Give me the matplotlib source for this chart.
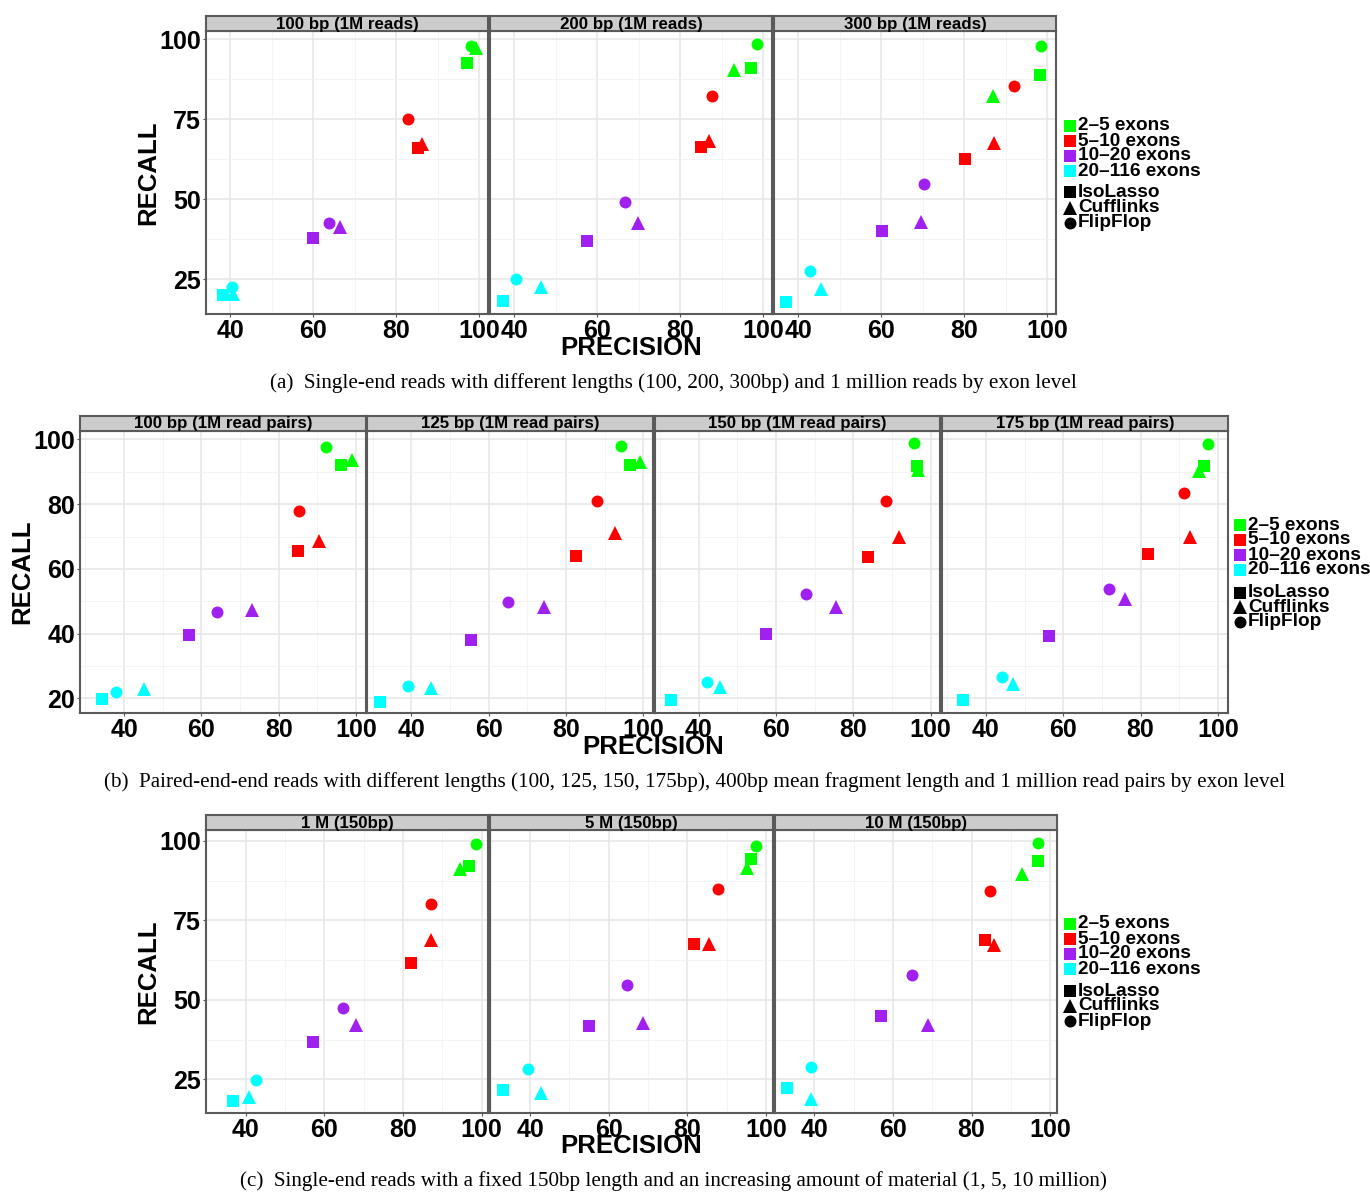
import matplotlib
matplotlib.use("Agg")
import matplotlib.pyplot as plt
from matplotlib.lines import Line2D
from matplotlib.patches import Rectangle

# ---------------- DATA ----------------
exon_groups = ['2\u20135 exons', '5\u201310 exons', '10\u201320 exons', '20\u2013116 exons']
exon_colors = ['#00FF00', '#FF0000', '#A020F0', '#00FFFF']
methods = ['IsoLasso', 'Cufflinks', 'FlipFlop']

# Row (a): single-end reads, different lengths
a_panels = ['100 bp (1M reads)', '200 bp (1M reads)', '300 bp (1M reads)']
a_isolasso_precision = [[97.0, 85.2, 60.0, 38.3], [97.0, 84.9, 57.6, 37.3], [98.2, 80.1, 60.1, 37.1]]
a_isolasso_recall = [[92.7, 66.2, 37.9, 20.1], [91.0, 66.4, 37.1, 18.3], [88.8, 62.6, 40.2, 18.0]]
a_cufflinks_precision = [[99.1, 86.1, 66.4, 40.8], [93.0, 86.9, 69.8, 46.6], [86.9, 87.1, 69.5, 45.5]]
a_cufflinks_recall = [[97.2, 67.3, 41.3, 20.3], [90.4, 68.2, 42.5, 22.7], [82.3, 67.7, 43.0, 21.9]]
a_flipflop_precision = [[98.1, 82.9, 63.7, 40.5], [98.6, 87.7, 66.7, 40.5], [98.4, 91.9, 70.3, 42.8]]
a_flipflop_recall = [[98.0, 75.1, 42.7, 22.7], [98.6, 82.4, 49.3, 25.0], [98.0, 85.5, 54.7, 27.7]]

# Row (b): paired-end reads, different lengths
b_panels = ['100 bp (1M read pairs)', '125 bp (1M read pairs)', '150 bp (1M read pairs)', '175 bp (1M read pairs)']
b_isolasso_precision = [[96.0, 84.9, 56.8, 34.3], [96.5, 82.7, 55.5, 32.0], [96.5, 83.8, 57.5, 32.9], [96.5, 81.9, 56.4, 34.1]]
b_isolasso_recall = [[92.1, 65.6, 39.6, 19.8], [92.1, 64.0, 38.1, 19.0], [91.7, 63.7, 39.9, 19.6], [91.8, 64.6, 39.3, 19.5]]
b_cufflinks_precision = [[99.0, 90.5, 73.2, 45.1], [99.1, 92.7, 74.4, 45.0], [96.7, 91.9, 75.6, 45.4], [95.1, 92.8, 76.0, 47.1]]
b_cufflinks_recall = [[93.5, 68.6, 47.3, 22.9], [92.9, 71.2, 48.2, 23.1], [90.5, 69.9, 48.2, 23.5], [90.2, 69.9, 50.6, 24.6]]
b_flipflop_precision = [[92.2, 85.3, 64.0, 37.9], [94.1, 88.0, 65.1, 39.1], [95.7, 88.5, 67.8, 42.2], [97.5, 91.2, 71.7, 44.1]]
b_flipflop_recall = [[97.8, 77.8, 46.8, 21.9], [98.0, 80.9, 49.7, 23.9], [98.8, 81.0, 52.4, 25.0], [98.5, 83.5, 53.8, 26.7]]

# Row (c): single-end 150bp, increasing amount of reads
c_panels = ['1 M (150bp)', '5 M (150bp)', '10 M (150bp)']
c_isolasso_precision = [[96.7, 82.0, 57.1, 36.8], [96.2, 81.7, 54.9, 33.1], [96.8, 83.4, 57.0, 33.1]]
c_isolasso_recall = [[92.0, 61.5, 36.8, 18.3], [94.2, 67.6, 41.8, 21.6], [93.6, 68.8, 44.9, 22.4]]
c_cufflinks_precision = [[94.5, 87.1, 68.0, 40.9], [95.1, 85.4, 68.7, 42.9], [92.7, 85.7, 68.8, 39.2]]
c_cufflinks_recall = [[91.1, 68.8, 42.0, 19.5], [91.6, 67.7, 42.8, 20.8], [89.6, 67.2, 42.0, 18.8]]
c_flipflop_precision = [[98.5, 87.0, 64.7, 42.5], [97.5, 87.7, 64.7, 39.6], [96.9, 84.8, 64.8, 39.1]]
c_flipflop_recall = [[99.0, 80.0, 47.3, 24.9], [98.4, 84.9, 54.7, 28.2], [99.4, 84.2, 57.8, 28.9]]

captions = [
    '(a)  Single-end reads with different lengths (100, 200, 300bp) and 1 million reads by exon level',
    '(b)  Paired-end-end reads with different lengths (100, 125, 150, 175bp), 400bp mean fragment length and 1 million read pairs by exon level',
    '(c)  Single-end reads with a fixed 150bp length and an increasing amount of material (1, 5, 10 million)',
]

# ---------------- STYLE / LAYOUT ----------------
W, H = 1370, 1192
DPI = 100
SANS = ['Liberation Sans', 'DejaVu Sans']
SERIF = ['Liberation Serif', 'DejaVu Serif']
plt.rcParams['font.family'] = SANS

fig = plt.figure(figsize=(W / DPI, H / DPI), dpi=DPI)
fig.patch.set_facecolor('white')

def fx(px):
    return px / W

def fy(py):
    return 1 - py / H

def add_box(x0, y0, x1, y1):
    return fig.add_axes([fx(x0), fy(y1), fx(x1) - fx(x0), (y1 - y0) / H])

markers = {'IsoLasso': 's', 'Cufflinks': '^', 'FlipFlop': 'o'}
msizes = {'IsoLasso': 8.6, 'Cufflinks': 9.6, 'FlipFlop': 8.6}
BORDER = '#5a5a5a'

rows = [
    dict(panels=a_panels,
         data={'IsoLasso': (a_isolasso_precision, a_isolasso_recall),
               'Cufflinks': (a_cufflinks_precision, a_cufflinks_recall),
               'FlipFlop': (a_flipflop_precision, a_flipflop_recall)},
         x0=206, pw=282, gap=2, ytop=31, ybot=314,
         xlim=(34.2, 102.1), ylim=(14.2, 102.6),
         yt=[25, 50, 75, 100], ym=[37.5, 62.5, 87.5],
         xt=[40, 60, 80, 100], xm=[50, 70, 90],
         ylab=(148, 173), xlab=(631, 348), cap=(673, 383),
         leg_x=1064, leg_y=[126, 141, 156, 171], leg_sy=[192.5, 207.5, 222.5]),
    dict(panels=b_panels,
         data={'IsoLasso': (b_isolasso_precision, b_isolasso_recall),
               'Cufflinks': (b_cufflinks_precision, b_cufflinks_recall),
               'FlipFlop': (b_flipflop_precision, b_flipflop_recall)},
         x0=80, pw=285.7, gap=1.6, ytop=430.7, ybot=713.3,
         xlim=(28.6, 102.5), ylim=(15.4, 102.7),
         yt=[20, 40, 60, 80, 100], ym=[30, 50, 70, 90],
         xt=[40, 60, 80, 100], xm=[30, 50, 70, 90],
         ylab=(22, 572), xlab=(653, 747), cap=(695, 782),
         leg_x=1234, leg_y=[525, 540, 555, 570], leg_sy=[592.5, 607, 622]),
    dict(panels=c_panels,
         data={'IsoLasso': (c_isolasso_precision, c_isolasso_recall),
               'Cufflinks': (c_cufflinks_precision, c_cufflinks_recall),
               'FlipFlop': (c_flipflop_precision, c_flipflop_recall)},
         x0=206, pw=282.3, gap=2, ytop=830, ybot=1113.3,
         xlim=(29.9, 101.7), ylim=(14.3, 103.4),
         yt=[25, 50, 75, 100], ym=[37.5, 62.5, 87.5],
         xt=[40, 60, 80, 100], xm=[30, 50, 70, 90],
         ylab=(148, 972), xlab=(631, 1146), cap=(673, 1181),
         leg_x=1064, leg_y=[924, 939, 954, 969], leg_sy=[991, 1006, 1021]),
]

for r, row in enumerate(rows):
    n = len(row['panels'])
    for p in range(n):
        x0 = row['x0'] + p * (row['pw'] + row['gap'])
        x1 = x0 + row['pw']
        ax = add_box(x0, row['ytop'], x1, row['ybot'])
        ax.set_facecolor('white')
        ax.set_xlim(*row['xlim'])
        ax.set_ylim(*row['ylim'])
        ax.set_xticks(row['xt'])
        ax.set_yticks(row['yt'])
        ax.set_xticks(row['xm'], minor=True)
        ax.set_yticks(row['ym'], minor=True)
        ax.grid(True, which='major', color='#E6E6E6', linewidth=1.1, zorder=0)
        ax.grid(True, which='minor', color='#F2F2F2', linewidth=0.6, zorder=0)
        ax.set_axisbelow(True)
        for s in ax.spines.values():
            s.set_color(BORDER)
            s.set_linewidth(1.5)
        ax.tick_params(axis='both', which='major', length=2, width=0.8, color='#555555',
                       labelsize=18, pad=1.5)
        ax.tick_params(axis='both', which='minor', length=0)
        for lab in ax.get_xticklabels() + ax.get_yticklabels():
            lab.set_fontweight('bold')
        if p > 0:
            ax.tick_params(axis='y', which='both', labelleft=False, length=0)
        for m in methods:
            prec, rec = row['data'][m]
            for g in range(len(exon_groups)):
                ax.plot(prec[p][g], rec[p][g], linestyle='none', marker=markers[m],
                        markersize=msizes[m], color=exon_colors[g],
                        markeredgewidth=0, zorder=3, clip_on=False)
        # strip
        sax = add_box(x0, row['ytop'] - 15, x1, row['ytop'])
        sax.set_facecolor('#CCCCCC')
        sax.set_xticks([])
        sax.set_yticks([])
        for s in sax.spines.values():
            s.set_color(BORDER)
            s.set_linewidth(1.5)
        sax.text(0.5, 0.45, row['panels'][p], ha='center', va='center',
                 fontsize=12.2, fontweight='bold', transform=sax.transAxes)

    # axis titles
    yl = row['ylab']
    fig.text(fx(yl[0]), fy(yl[1]), 'RECALL', rotation=90, ha='center', va='center',
             fontsize=18.5, fontweight='bold')
    xl = row['xlab']
    fig.text(fx(xl[0]), fy(xl[1]), 'PRECISION', ha='center', va='center',
             fontsize=18.5, fontweight='bold')
    # caption
    cp = row['cap']
    fig.text(fx(cp[0]), fy(cp[1]), captions[r], ha='center', va='center',
             fontsize=15.2, family=SERIF)

    # legend: colours
    lx = row['leg_x']
    for g, lab in enumerate(exon_groups):
        cy = row['leg_y'][g]
        fig.add_artist(Rectangle((fx(lx), fy(cy + 6)), 12 / W, 12 / H,
                                 transform=fig.transFigure, facecolor=exon_colors[g],
                                 edgecolor='none'))
        fig.text(fx(lx + 14), fy(cy), lab, ha='left', va='center',
                 fontsize=13.7, fontweight='bold')
    # legend: shapes
    for k, m in enumerate(methods):
        cy = row['leg_sy'][k]
        fig.add_artist(Line2D([fx(lx + 6)], [fy(cy)], transform=fig.transFigure,
                              linestyle='none', marker=markers[m], markersize=msizes[m],
                              color='black', markeredgewidth=0))
        fig.text(fx(lx + 14), fy(cy), m, ha='left', va='center',
                 fontsize=13.7, fontweight='bold')

fig.savefig('out.png', dpi=DPI, facecolor='white')
